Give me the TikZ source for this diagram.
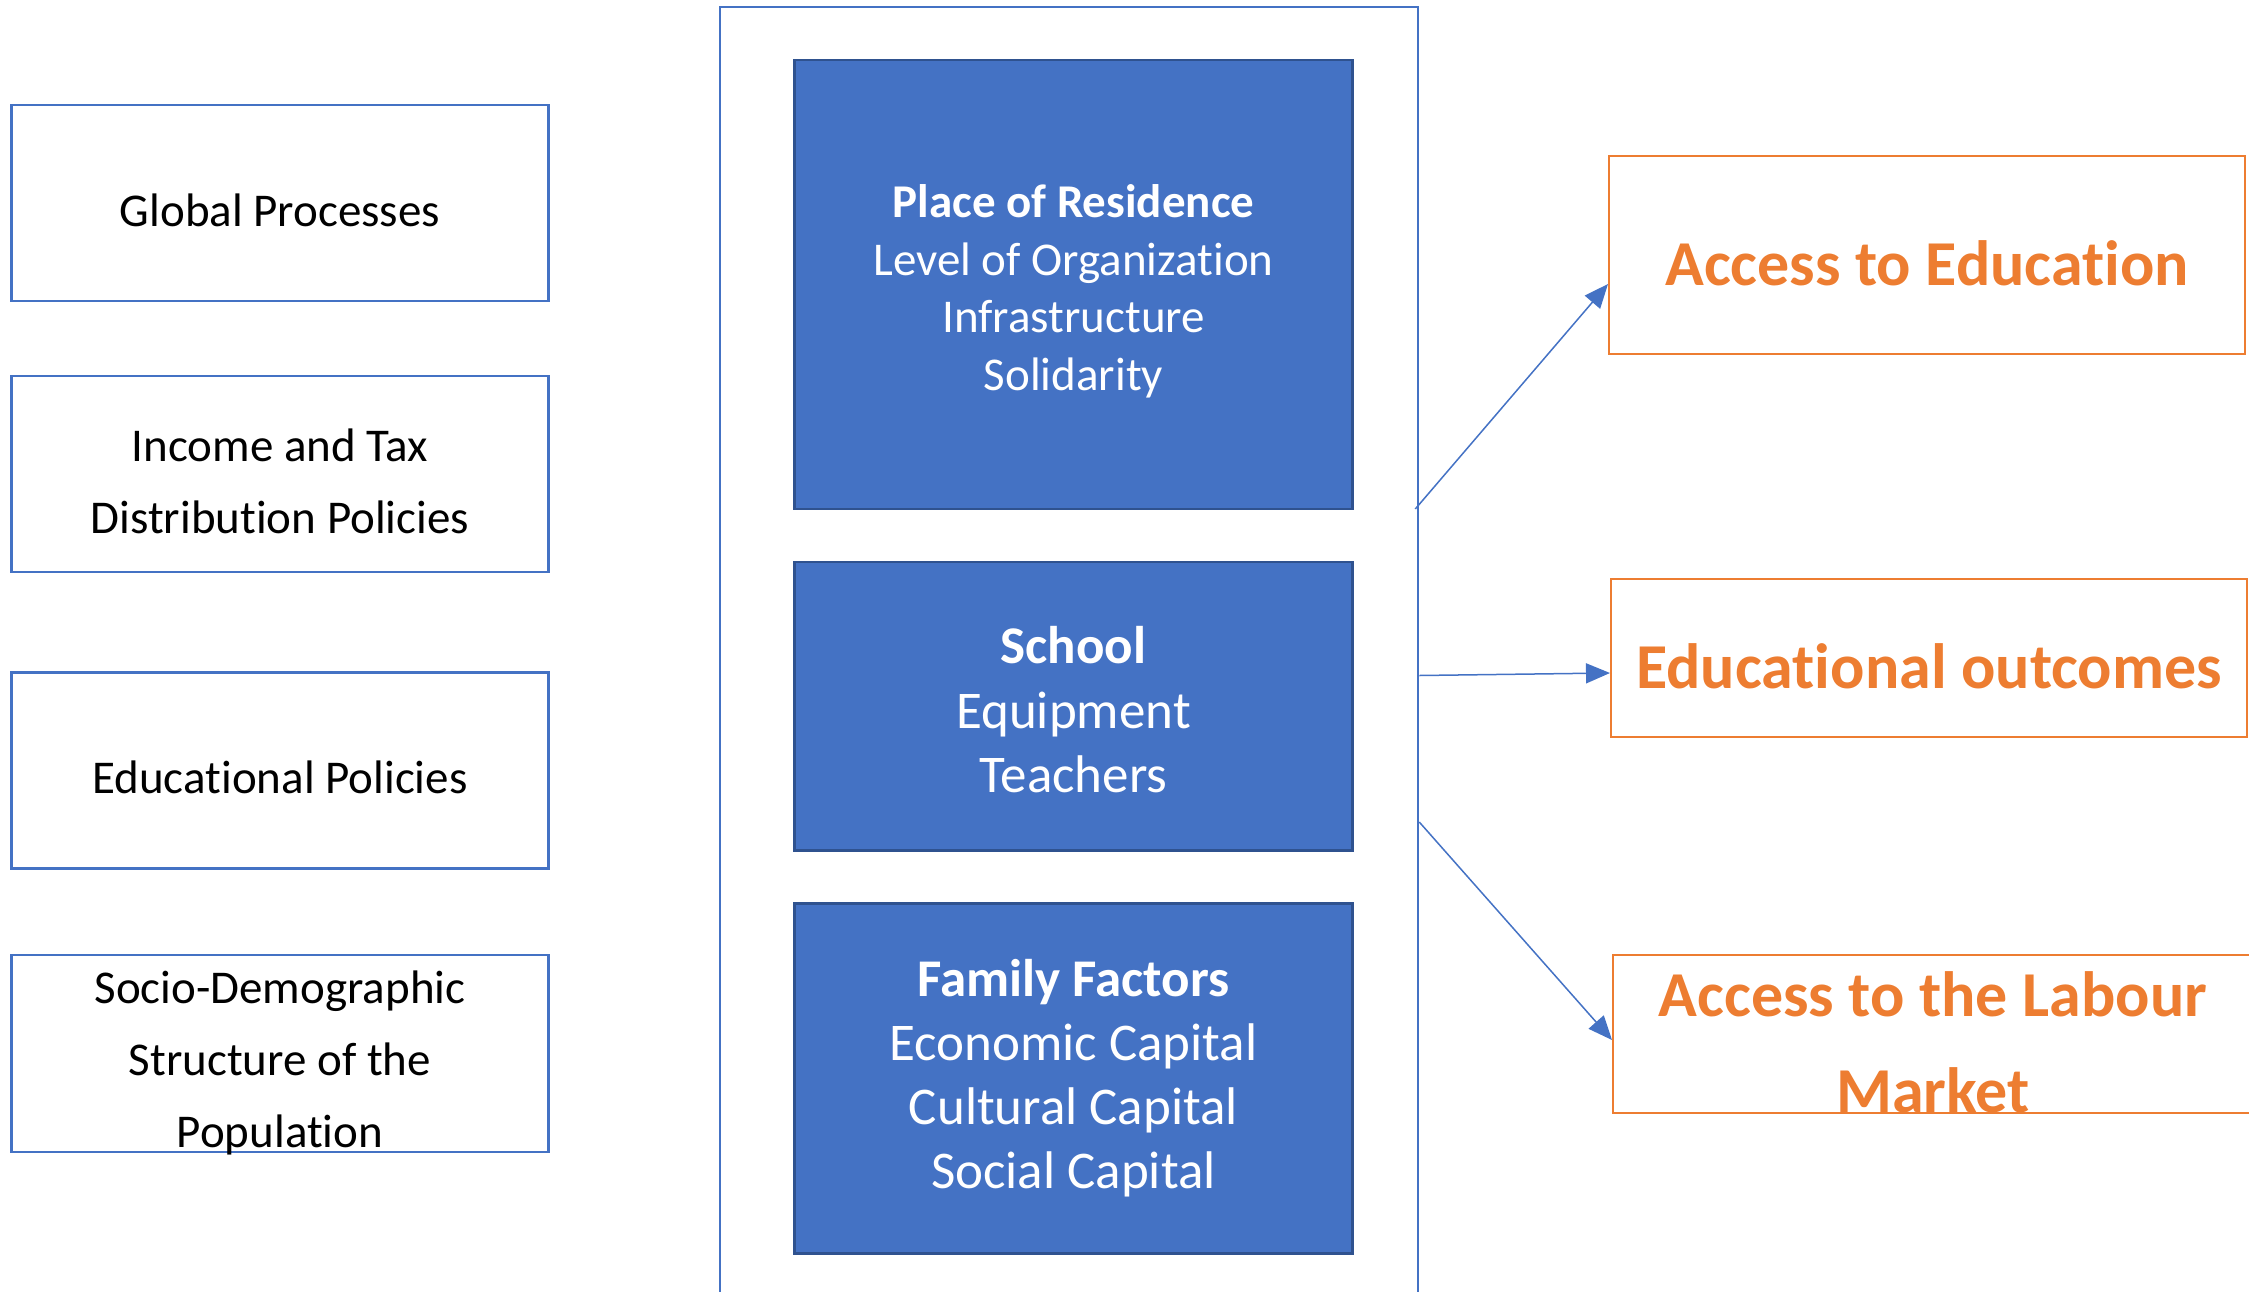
\documentclass[tikz,border=0pt]{standalone}
\usepackage{fontspec}
\setmainfont{Carlito}[Ligatures=NoCommon]
\usetikzlibrary{arrows.meta}
\definecolor{boxblue}{RGB}{68,114,196}
\definecolor{darkblue}{RGB}{47,82,143}
\definecolor{accorange}{RGB}{237,125,49}
\newcommand\uplift[1][1em]{\rule{0pt}{#1}}
\begin{document}
\begin{tikzpicture}[x=1pt,y=-1pt,
  policy/.style={draw=boxblue,line width=2.5pt,minimum width=537pt,minimum height=196pt,inner sep=0pt,inner ysep=-10pt,align=center,font=\fontsize{47}{72}\selectfont},
  factor/.style={draw=darkblue,line width=2.5pt,fill=boxblue,text=white,minimum width=558pt,inner sep=0pt,align=center},
  result/.style={draw=accorange,line width=2pt,minimum width=636pt,minimum height=158pt,inner sep=0pt,inner ysep=-10pt,align=center,text=accorange,font=\fontsize{64}{96}\selectfont\bfseries},
  link/.style={boxblue,line width=1.5pt,-{Triangle[length=24pt,width=20pt]}}]
\useasboundingbox (0,0) rectangle (2249,1291);
\node[policy] (global) at (280,203) {\uplift Global Processes};
\node[policy] (income) at (280,474) {\uplift Income and Tax\\Distribution Policies};
\node[policy] (edupol) at (280,770.5) {\uplift Educational Policies};
\node[policy,minimum height=197pt] (socio) at (280,1053.5) {\uplift[1.1em]Socio-Demographic\\Structure of the\\Population};
\node[draw=boxblue,line width=2pt,minimum width=698.5pt,minimum height=1313pt] (panel) at (1069,663.5) {};
\node[factor,minimum height=449pt,font=\fontsize{47}{57.5}\selectfont] (residence) at (1073.5,284.5) {\uplift\textbf{Place of Residence}\\Level of Organization\\Infrastructure\\Solidarity};
\node[factor,minimum height=288.5pt,font=\fontsize{53}{64.5}\selectfont] (school) at (1073.5,706) {\uplift[0.85em]\textbf{School}\\Equipment\\Teachers};
\node[factor,minimum height=350pt,font=\fontsize{53}{64}\selectfont] (family) at (1073.5,1078.6) {\textbf{Family Factors}\\Economic Capital\\Cultural Capital\\Social Capital};
\node[result,minimum height=198pt] (access) at (1927,255) {\uplift[0.95em]Access to Education};
\node[result,minimum height=157.5pt] (outcomes) at (1929,658) {\uplift[0.95em]Educational outcomes};
\node[result,minimum width=640pt] (labour) at (1933,1034) {\uplift[0.95em]Access to the Labour\\Market};
\draw[link] ([xshift=-4pt,yshift=154.5pt]panel.east) -- ([yshift=-29pt]access.west);
\draw[link] ([yshift=-12pt]panel.east) -- ([yshift=-15pt]outcomes.west);
\draw[link] ([yshift=-158.5pt]panel.east) -- ([yshift=-6pt]labour.west);
\end{tikzpicture}
\end{document}
